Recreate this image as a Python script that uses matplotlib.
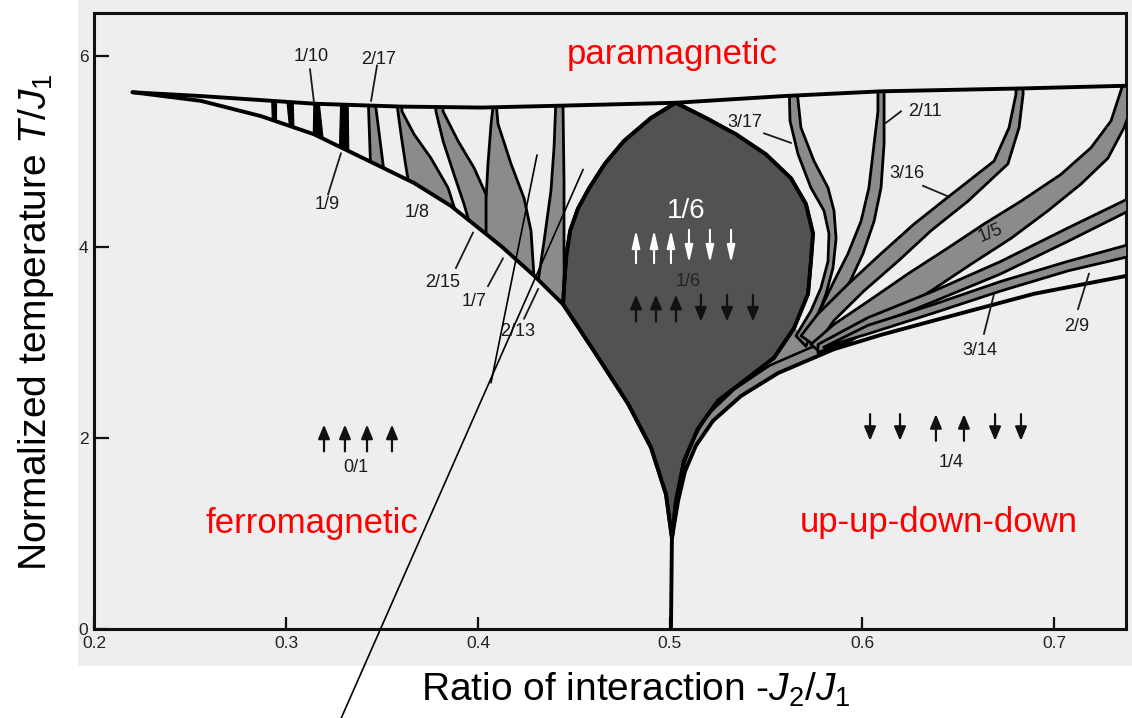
import numpy as np
import matplotlib
matplotlib.use("Agg")
import matplotlib.pyplot as plt
from matplotlib.patches import Polygon, Rectangle

plt.rcParams["font.family"] = ["Liberation Sans", "DejaVu Sans"]
plt.rcParams["mathtext.fontset"] = "custom"
plt.rcParams["mathtext.rm"] = "Liberation Sans"
plt.rcParams["mathtext.it"] = "Liberation Sans:italic"

# ---- phase boundaries: kappa = -J2/J1 (x), T/J1 (y) ----
para_k = [0.220, 0.256, 0.315, 0.360, 0.402, 0.444, 0.503, 0.559, 0.610, 0.683, 0.741]
para_T = [5.62, 5.58, 5.50, 5.47, 5.46, 5.48, 5.51, 5.58, 5.63, 5.66, 5.69]

ferro_k = [0.2203, 0.2557, 0.2870, 0.3146, 0.3443, 0.3667, 0.3859, 0.3990, 0.4120,
           0.4292, 0.4443, 0.4604, 0.4781, 0.4901, 0.4979, 0.5010, 0.5005]
ferro_T = [5.62, 5.53, 5.37, 5.18, 4.89, 4.67, 4.43, 4.22, 4.01,
           3.70, 3.40, 2.91, 2.36, 1.90, 1.41, 0.95, 0.0]

uudd_k = [0.5010, 0.5042, 0.5078, 0.5135, 0.5224, 0.5370, 0.5563, 0.5854,
          0.6099, 0.6375, 0.6896, 0.7410]
uudd_T = [0.95, 1.34, 1.65, 1.92, 2.18, 2.44, 2.68, 2.93, 3.08, 3.23, 3.51, 3.71]

# inner boundary running along the channel above the uudd line
chan_k = [0.5010, 0.5037, 0.5068, 0.5115, 0.5195, 0.5335, 0.5520, 0.5760]
chan_T = [0.95, 1.36, 1.69, 1.97, 2.24, 2.51, 2.76, 2.97]

# 1/6 lobe
lobe_left_k = [0.503, 0.490, 0.476, 0.466, 0.458, 0.452, 0.448, 0.446, 0.445, 0.4443]
lobe_left_T = [5.51, 5.35, 5.11, 4.87, 4.62, 4.40, 4.17, 3.91, 3.64, 3.40]
lobe_right_k = [0.503, 0.5188, 0.5344, 0.5500, 0.5630, 0.5708, 0.5745, 0.5734, 0.5719,
                0.5646, 0.5542, 0.5406, 0.5250, 0.5146, 0.5073, 0.5031, 0.5010]
lobe_right_T = [5.51, 5.35, 5.18, 4.97, 4.72, 4.45, 4.14, 3.85, 3.51,
                3.15, 2.84, 2.63, 2.39, 2.10, 1.76, 1.34, 0.95]

# narrow black wedges near the ferro / para corner
wedge_a = [(0.2922, 5.62), (0.2948, 5.62), (0.2948, 5.25), (0.2927, 5.25)]
wedge_b = [(0.3000, 5.62), (0.3036, 5.62), (0.3042, 5.20), (0.3021, 5.20)]
wedge_1_10 = [(0.3146, 5.62), (0.3167, 5.62), (0.3198, 5.05), (0.3141, 5.05)]
wedge_1_9 = [(0.3286, 5.62), (0.3323, 5.62), (0.3328, 4.85), (0.3276, 4.85)]

# commensurate leaves, kappa < 1/2
leaf_2_17 = [(0.3427, 5.62), (0.3443, 4.70), (0.3516, 4.70), (0.3458, 5.62)]
leaf_1_8 = [(0.3573, 5.62), (0.3583, 5.42), (0.3599, 5.18), (0.3620, 4.90), (0.3641, 4.64),
            (0.3646, 4.45), (0.3938, 4.10), (0.3885, 4.36), (0.3844, 4.62), (0.3755, 4.93),
            (0.3667, 5.18), (0.3604, 5.42), (0.3599, 5.62)]
leaf_2_15 = [(0.3776, 5.62), (0.3781, 5.42), (0.3818, 5.11), (0.3875, 4.76), (0.3927, 4.45),
             (0.3953, 4.27), (0.3964, 4.00), (0.4068, 3.90), (0.4057, 4.27), (0.4042, 4.55),
             (0.3979, 4.83), (0.3896, 5.11), (0.3818, 5.42), (0.3813, 5.62)]
leaf_1_7 = [(0.4083, 5.55), (0.4068, 5.29), (0.4052, 4.87), (0.4042, 4.51), (0.4042, 4.09),
            (0.4042, 3.80), (0.4320, 3.40), (0.4292, 3.68), (0.4276, 4.17), (0.4240, 4.51),
            (0.4172, 4.87), (0.4104, 5.29), (0.4093, 5.55)]
leaf_2_13 = [(0.4406, 5.55), (0.4396, 5.04), (0.4380, 4.59), (0.4344, 4.06), (0.4313, 3.64),
             (0.4300, 3.40), (0.4450, 3.30), (0.4448, 3.99), (0.4448, 4.69), (0.4443, 5.45),
             (0.4443, 5.55)]

# commensurate leaves, kappa > 1/2
leaf_3_17 = [(0.5620, 5.74), (0.5625, 5.32), (0.5667, 4.97), (0.5734, 4.62), (0.5802, 4.38),
             (0.5828, 4.14), (0.5823, 3.85), (0.5786, 3.57), (0.5734, 3.33), (0.5656, 3.07),
             (0.5708, 2.96), (0.5760, 3.23), (0.5813, 3.51), (0.5849, 3.78), (0.5865, 4.09),
             (0.5854, 4.38), (0.5823, 4.62), (0.5750, 4.90), (0.5682, 5.25), (0.5656, 5.74)]
leaf_2_11 = [(0.6083, 5.74), (0.6083, 5.42), (0.6063, 5.08), (0.6036, 4.62), (0.5995, 4.27),
             (0.5927, 3.93), (0.5854, 3.64), (0.5786, 3.36), (0.5708, 3.07), (0.5760, 2.96),
             (0.5797, 3.19), (0.5865, 3.40), (0.5938, 3.64), (0.6005, 3.93), (0.6063, 4.27),
             (0.6099, 4.62), (0.6115, 5.08), (0.6115, 5.42), (0.6115, 5.74)]
leaf_3_16 = [(0.6802, 5.74), (0.6802, 5.60), (0.6766, 5.25), (0.6688, 4.90), (0.6453, 4.53),
             (0.6271, 4.24), (0.6099, 3.93), (0.5927, 3.61), (0.5771, 3.30), (0.5682, 3.07),
             (0.5760, 2.96), (0.5854, 3.23), (0.6010, 3.54), (0.6187, 3.85), (0.6359, 4.17),
             (0.6552, 4.48), (0.6760, 4.87), (0.6818, 5.25), (0.6839, 5.60), (0.6839, 5.74)]
leaf_1_5 = [(0.7365, 5.74), (0.7297, 5.32), (0.7193, 5.04), (0.7036, 4.76), (0.6828, 4.48),
            (0.6635, 4.24), (0.6448, 3.99), (0.6240, 3.72), (0.6031, 3.43), (0.5854, 3.19),
            (0.5734, 2.98), (0.5786, 2.89), (0.5943, 3.02), (0.6135, 3.26), (0.6359, 3.54),
            (0.6568, 3.82), (0.6776, 4.09), (0.6969, 4.38), (0.7141, 4.66), (0.7281, 4.93),
            (0.7365, 5.25), (0.7427, 5.60), (0.7427, 5.74)]
leaf_3_14 = [(0.7453, 4.51), (0.7391, 4.51), (0.7073, 4.20), (0.6724, 3.85), (0.6375, 3.54),
             (0.6031, 3.26), (0.5771, 2.98), (0.5771, 2.89), (0.6031, 3.15), (0.6375, 3.43),
             (0.6724, 3.72), (0.7073, 4.06), (0.7391, 4.38), (0.7453, 4.38)]
leaf_2_9 = [(0.7453, 4.06), (0.7073, 3.85), (0.6724, 3.64), (0.6375, 3.40), (0.6031, 3.18),
            (0.5800, 2.95), (0.6031, 3.09), (0.6375, 3.31), (0.6724, 3.54), (0.7073, 3.75),
            (0.7453, 3.93)]

# spin arrows (position, +1 up / -1 down)
spins01_k = [0.3198, 0.3307, 0.3422, 0.3552]
spins01_s = [1, 1, 1, 1]
spins14_k = [0.6042, 0.6198, 0.6385, 0.6531, 0.6693, 0.6828]
spins14_s = [-1, -1, 1, 1, -1, -1]
spins16_k = [0.4823, 0.4927, 0.5031, 0.5161, 0.5297, 0.5432]
spins16_s = [1, 1, 1, -1, -1, -1]
big16_k = [0.4823, 0.4917, 0.5005, 0.5099, 0.5208, 0.5318]

# phase labels with leader lines: text, text pos, leader start, leader end
labels = ["1/10", "2/17", "1/9", "2/15", "1/7", "2/13", "3/17", "2/11", "3/16", "3/14", "2/9"]
label_xy = [(0.3130, 5.99), (0.3484, 5.96), (0.3214, 4.44), (0.3818, 3.63), (0.3979, 3.43),
            (0.4208, 3.11), (0.5391, 5.30), (0.6328, 5.42), (0.6234, 4.77), (0.6615, 2.92),
            (0.7120, 3.17)]
leader_a = [(0.3125, 5.86), (0.3474, 5.90), (0.3219, 4.55), (0.3885, 3.78), (0.4052, 3.59),
            (0.4240, 3.25), (0.5490, 5.19), (0.6203, 5.42), (0.6318, 4.64), (0.6635, 3.09),
            (0.7125, 3.35)]
leader_b = [(0.3146, 5.51), (0.3443, 5.53), (0.3286, 4.98), (0.3974, 4.15), (0.4130, 3.88),
            (0.4313, 3.56), (0.5630, 5.09), (0.6125, 5.30), (0.6448, 4.53), (0.6688, 3.51),
            (0.7182, 3.72)]

# hand-drawn pointer lines crossing the plot
pointer_a = [(0.4307, 4.96), (0.4068, 2.58)]
pointer_b = [(0.4547, 4.81), (0.3286, -0.94)]

W, H = 1132, 718
fig = plt.figure(figsize=(W / 100, H / 100), dpi=100)
fig.patches.append(Rectangle((78 / W, 1 - 666 / H), 1 - 78 / W, 666 / H,
                             transform=fig.transFigure, fc="#eeeeee", ec="none", zorder=-10))
ax = fig.add_axes([94 / W, (H - 629) / H, 1032 / W, 616 / H])
ax.set_facecolor("none")
ax.set_xlim(0.2, 0.7375)
ax.set_ylim(0, 6.45)

for s in ax.spines.values():
    s.set_linewidth(2.2)
    s.set_color("#111")
ax.set_xticks([0.2, 0.3, 0.4, 0.5, 0.6, 0.7])
ax.set_xticklabels(["0.2", "0.3", "0.4", "0.5", "0.6", "0.7"])
ax.set_yticks([0, 2, 4, 6])
ax.tick_params(direction="in", width=1.6, color="#111", labelsize=12.5, labelcolor="#222")
ax.tick_params(axis="x", length=9, pad=5)
ax.tick_params(axis="y", length=11, pad=4)

# region between the para, ferro and uudd lines, used to trim the leaves
region = np.vstack([np.column_stack([para_k, para_T]),
                    np.column_stack([uudd_k, uudd_T])[::-1],
                    np.column_stack([ferro_k, ferro_T])[:-1][::-1]])
clip = Polygon(region, closed=True, transform=ax.transData)

GREY = "#8b8b8b"
LOBE = "#525252"

# channel feeding the fan into the cusp
ch = np.vstack([np.column_stack([lobe_right_k, lobe_right_T])[9:],
                np.column_stack([uudd_k, uudd_T])[1:8]])
ax.add_patch(Polygon(ch, closed=True, fc=GREY, ec="none", zorder=2))
ax.plot(chan_k, chan_T, color="black", lw=1.8, solid_capstyle="round", zorder=2.5)


def leaf(pts, fc=GREY, lw=2.0):
    p = Polygon(pts, closed=True, fc=fc, ec="black", lw=lw, joinstyle="round", zorder=3)
    ax.add_patch(p)
    p.set_clip_path(clip)


for w in [wedge_a, wedge_b, wedge_1_10, wedge_1_9]:
    leaf(w, fc="black", lw=0.8)
for lf in [leaf_2_17, leaf_1_8, leaf_2_15, leaf_1_7, leaf_2_13,
           leaf_3_17, leaf_2_11, leaf_3_16, leaf_1_5, leaf_3_14, leaf_2_9]:
    leaf(lf)

# 1/6 lobe: left arc, ferro segment down to the cusp, right arc back up
j = ferro_T.index(3.40)
lobe = np.vstack([np.column_stack([lobe_left_k, lobe_left_T]),
                  np.column_stack([ferro_k, ferro_T])[j + 1:-1],
                  np.column_stack([lobe_right_k, lobe_right_T])[::-1]])
ax.add_patch(Polygon(lobe, closed=True, fc=LOBE, ec="black", lw=2.6, joinstyle="round", zorder=4))

lk = dict(color="black", lw=2.8, solid_capstyle="round", solid_joinstyle="round", zorder=5)
ax.plot(para_k, para_T, **lk)
ax.plot(ferro_k, ferro_T, **lk)
ax.plot(uudd_k, uudd_T, **lk)
ax.plot(lobe_left_k, lobe_left_T, **lk)
ax.plot(lobe_right_k, lobe_right_T, **lk)

# labels and leaders
INK = "#1a1a1a"
for t, (tx, ty), a, b in zip(labels, label_xy, leader_a, leader_b):
    ax.text(tx, ty, t, fontsize=13, color=INK, ha="center", va="center", zorder=6)
    ax.plot([a[0], b[0]], [a[1], b[1]], color=INK, lw=1.3, zorder=6)
ax.text(0.3682, 4.36, "1/8", fontsize=13, color=INK, ha="center", va="center", zorder=6)
ax.text(0.6672, 4.14, "1/5", fontsize=13, color=INK, ha="center", va="center",
        rotation=22, zorder=6)
ax.text(0.3365, 1.69, "0/1", fontsize=13, color=INK, ha="center", va="center")
ax.text(0.6464, 1.74, "1/4", fontsize=13, color=INK, ha="center", va="center")
ax.text(0.5094, 3.64, "1/6", fontsize=13, color="#222", ha="center", va="center", zorder=6)


def spins(ks, ss, lo, hi, color="#111", lw=1.6, style="-|>,head_length=0.6,head_width=0.25",
          scale=14, z=6):
    for k, s in zip(ks, ss):
        a, b = (lo, hi) if s > 0 else (hi, lo)
        ax.annotate("", xy=(k, b), xytext=(k, a), zorder=z,
                    arrowprops=dict(arrowstyle=style, lw=lw, color=color,
                                    mutation_scale=scale, shrinkA=0, shrinkB=0))


spins(spins01_k, spins01_s, 1.86, 2.14)
spins(spins14_k, spins14_s, 1.97, 2.25)
spins(spins16_k, spins16_s, 3.22, 3.50)

# white overlay on the 1/6 lobe
ax.text(0.5083, 4.30, "1/6", fontsize=20, color="white", ha="center", va="baseline", zorder=7)
spins(big16_k, spins16_s, 3.83, 4.18, color="white", lw=1.5,
      style="-|>,head_length=0.75,head_width=0.17", scale=14, z=7)

# region names
ax.text(0.501, 5.92, "paramagnetic", fontsize=25, color="red", ha="center", va="baseline", zorder=7)
ax.text(0.3135, 1.00, "ferromagnetic", fontsize=25, color="red", ha="center", va="baseline", zorder=7)
ax.text(0.6401, 1.02, "up-up-down-down", fontsize=25, color="red", ha="center", va="baseline", zorder=7)

for p in [pointer_a, pointer_b]:
    ax.plot([p[0][0], p[1][0]], [p[0][1], p[1][1]], color="black", lw=1.2,
            clip_on=False, zorder=8)

fig.text(36 / W, 1 - 322 / H, "Normalized temperature $T/J_1$", rotation=90,
         fontsize=28, ha="center", va="center")
fig.text(636 / W, 1 - 690 / H, "Ratio of interaction -$J_2$/$J_1$",
         fontsize=28, ha="center", va="center")

fig.savefig("out.png", dpi=100)
